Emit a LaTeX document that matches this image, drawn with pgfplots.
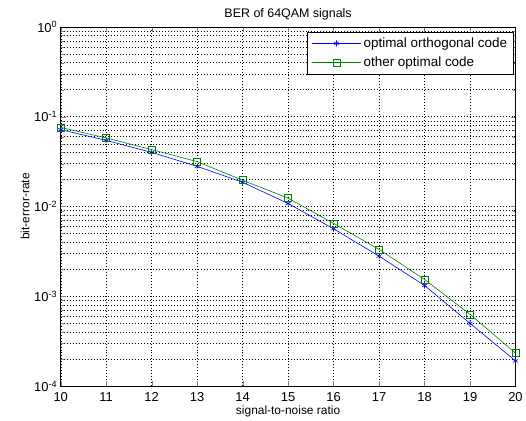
\documentclass[border=0pt]{standalone}
\usepackage{fontspec}
\setmainfont{Liberation Sans}
\usepackage{pgfplots}
\pgfplotsset{compat=1.18}
\definecolor{mblue}{rgb}{0,0,1}
\definecolor{mgreen}{rgb}{0,0.5,0}
\begin{document}
\begin{tikzpicture}
\begin{axis}[
    at={(0,0)}, anchor=south west,
    scale only axis,
    width=457pt, height=361pt,
    ymode=log, log basis y=10,
    xmin=10, xmax=20, ymin=1e-4, ymax=1,
    xtick={10,11,...,20},
    ytick={1e-4,1e-3,1e-2,1e-1,1},
    minor ytick={2e-4,3e-4,4e-4,5e-4,6e-4,7e-4,8e-4,9e-4,
                 2e-3,3e-3,4e-3,5e-3,6e-3,7e-3,8e-3,9e-3,
                 2e-2,3e-2,4e-2,5e-2,6e-2,7e-2,8e-2,9e-2,
                 2e-1,3e-1,4e-1,5e-1,6e-1,7e-1,8e-1,9e-1},
    yticklabels={10\textsuperscript{-4},10\textsuperscript{-3},10\textsuperscript{-2},10\textsuperscript{-1},10\textsuperscript{0}},
    /pgf/number format/assume math mode=true,
    tick label style={font=\fontsize{13}{15}\selectfont},
    xticklabel style={yshift=-3pt},
    label style={font=\fontsize{12}{14}\selectfont},
    title style={font=\fontsize{12.5}{14}\selectfont, yshift=-3pt},
    title={BER of 64QAM signals},
    xlabel={signal-to-noise ratio},
    ylabel={bit-error-rate},
    xlabel style={yshift=3pt},
    ylabel style={yshift=-2pt},
    tick align=inside,
    major tick length=5pt, minor tick length=3pt,
    xmajorgrids, ymajorgrids, yminorgrids,
    major grid style={black, line width=0.4pt, dash pattern=on 0.8pt off 2.2pt},
    minor grid style={black, line width=0.4pt, dash pattern=on 0.8pt off 2.2pt},
    axis line style={black, line width=0.5pt},
    legend style={at={(0.995,0.987)}, anchor=north east, draw=black, fill=white,
        font=\fontsize{13.5}{15}\selectfont, row sep=4pt, inner sep=4pt},
    legend cell align=left,
    legend image code/.code={
        \draw[mark repeat=2, mark phase=2] plot coordinates {(0pt,0pt) (25pt,0pt) (50pt,0pt)};
    },
]
\addplot[mblue, line width=0.6pt, mark=asterisk, mark size=3pt] coordinates {
(10,0.0717) (11,0.0545) (12,0.0400) (13,0.0280) (14,0.0186) (15,0.0108)
(16,0.00565) (17,0.0028) (18,0.00132) (19,0.00050) (20,0.000191)};
\addlegendentry{optimal orthogonal code}
\addplot[mgreen, line width=0.6pt, mark=square, mark size=3.5pt] coordinates {
(10,0.0760) (11,0.0580) (12,0.0430) (13,0.0316) (14,0.0196) (15,0.0124)
(16,0.00648) (17,0.00333) (18,0.00154) (19,0.00063) (20,0.000233)};
\addlegendentry{other optimal code}
\end{axis}
\path (-61pt,-35pt) rectangle (465pt,388pt);
\end{tikzpicture}
\end{document}
